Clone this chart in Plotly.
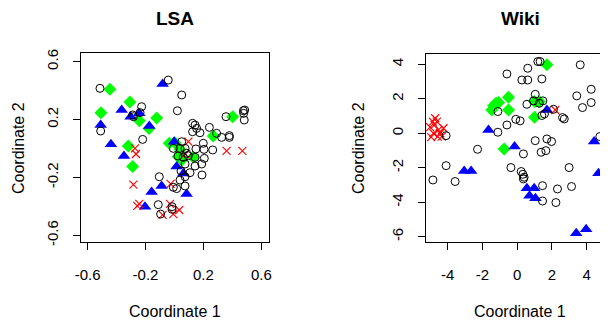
import plotly.graph_objects as go

# ---------------- LSA panel data ----------------
lsa_circle_x = [-0.515, -0.043, 0.050, -0.227, -0.238, -0.284, -0.289, 0.020, -0.510, -0.220,
                0.125, 0.142, 0.153, 0.176, 0.125, 0.241, 0.291, 0.326, 0.379, 0.379,
                0.356, 0.476, 0.485, 0.478, 0.482, 0.050, -0.008, 0.038, 0.073, 0.084,
                0.199, 0.148, 0.204, 0.264, 0.024, 0.061, 0.096, 0.142, 0.206, 0.073,
                0.142, 0.188, 0.045, 0.107, 0.190, 0.073, 0.038, -0.105, -0.008, 0.015,
                0.073, -0.112, -0.017, -0.096, -0.017]
lsa_circle_y = [0.416, 0.473, 0.370, 0.289, 0.248, 0.220, 0.232, 0.261, 0.121, 0.063,
                0.174, 0.162, 0.139, 0.109, 0.116, 0.146, 0.105, 0.077, 0.089, 0.077,
                0.220, 0.261, 0.266, 0.243, 0.197, 0.047, 0.001, 0.001, 0.001, -0.033,
                0.036, -0.003, -0.006, -0.010, -0.052, -0.061, -0.050, -0.061, -0.068, -0.107,
                -0.121, -0.107, -0.155, -0.167, -0.183, -0.195, -0.218, -0.195, -0.268, -0.277,
                -0.259, -0.388, -0.402, -0.453, -0.420]

lsa_diamond_x = [-0.446, -0.308, -0.508, -0.123, -0.243, -0.176, -0.319, -0.289, -0.036, 0.003,
                 0.038, 0.026, 0.130, 0.268, 0.402, 0.050]
lsa_diamond_y = [0.409, 0.321, 0.248, 0.211, 0.192, 0.139, 0.017, -0.125, 0.036, 0.040,
                 -0.006, -0.057, -0.061, 0.086, 0.220, -0.079]

lsa_triangle_x = [-0.082, -0.365, -0.303, -0.243, -0.510, -0.174, -0.439, -0.349, 0.015, 0.061,
                  0.084, -0.089, -0.158, -0.204, -0.003]
lsa_triangle_y = [0.446, 0.266, 0.220, 0.243, 0.162, 0.155, 0.029, -0.052, -0.125, -0.172,
                  -0.314, -0.259, -0.300, -0.402, 0.047]

lsa_cross_x = [0.096, -0.273, -0.266, -0.284, -0.243, -0.257, -0.027, -0.031, 0.033, -0.008,
               -0.082, 0.360, 0.469, 0.073]
lsa_cross_y = [0.047, 0.001, -0.038, -0.250, -0.383, -0.397, -0.245, -0.383, -0.425, -0.453,
               -0.459, -0.017, -0.017, -0.038]

# ---------------- Wiki panel data ----------------
wiki_circle_x = [-4.85, -4.09, -4.09, -3.57, -2.28, -1.11, -1.11, -0.59, -0.59, -0.36,
                 -0.08, 0.17, 0.27, 0.61, 0.61, 0.56, 0.36, 0.23, 0.33, 0.40,
                 0.36, 1.19, 1.32, 1.42, 1.04, 0.94, 1.48, 1.27, 1.42, 1.57,
                 1.04, 1.71, 1.98, 1.38, 1.65, 1.46, 1.46, 2.23, 2.32, 2.61,
                 2.71, 2.09, 2.99, 3.13, 3.63, 3.43, 3.76, 4.26, 4.26, 4.76]
wiki_circle_y = [-2.71, -0.14, -1.88, -2.80, -0.93, 0.06, 1.26, 3.44, 0.48, -1.99,
                 0.81, 0.72, 3.09, 3.77, 3.09, 1.68, -1.20, -2.22, -2.38, -2.55,
                 -2.65, 4.16, 4.16, 3.15, 2.26, 1.88, 1.88, 1.74, 1.03, 1.12,
                 -0.43, -0.33, -0.48, -1.10, -1.01, -3.04, -3.93, -4.02, -3.23, 0.91,
                 0.83, 1.39, -1.99, -3.09, 3.97, 2.17, 1.49, 2.55, 1.78, -0.19]

wiki_diamond_x = [1.71, -0.50, -1.21, -1.07, -1.36, -1.46, -0.50, 1.00, 1.27, 1.00, -0.75, 5.26]
wiki_diamond_y = [3.97, 2.09, 1.74, 1.78, 1.59, 1.35, 1.35, 1.84, 1.84, 0.93, -0.91, -0.35]

wiki_triangle_x = [-1.65, -3.05, -2.65, -0.15, 1.71, 4.43, 4.68, 0.56, 0.98, 0.71,
                   1.05, 3.40, 3.97, 5.20]
wiki_triangle_y = [0.19, -2.19, -2.19, -0.77, 1.35, -0.48, -2.32, -3.19, -3.19, -3.62,
                   -3.77, -5.80, -5.57, -2.13]

wiki_cross_x = [-4.85, -4.62, -4.76, -5.01, -4.53, -4.82, -4.43, -4.24, -4.95, -4.57,
                -4.34, -4.72, 2.19]
wiki_cross_y = [0.68, 0.68, 0.48, 0.35, 0.19, 0.00, 0.00, 0.29, -0.23, -0.19,
                -0.19, 0.87, 1.35]

lsa_ticks = [-0.6, -0.2, 0.2, 0.6]
lsa_ticktext = ["-0.6", "-0.2", "0.2", "0.6"]
wiki_xticks = [-4, -2, 0, 2, 4]
wiki_xticktext = ["-4", "-2", "0", "2", "4"]
wiki_yticks = [-6, -4, -2, 0, 2, 4]
wiki_yticktext = ["-6", "-4", "-2", "0", "2", "4"]

titles = ["LSA", "Wiki"]

FONT = "Liberation Sans, Arial, Helvetica, sans-serif"
GREEN = "#00FF00"
BLUE = "#0000FF"
RED = "#FF0000"

fig = go.Figure()


def add_panel(xa, ya, dx, dy, tx, ty, cx, cy, ox, oy):
    fig.add_trace(go.Scatter(x=dx, y=dy, mode="markers", xaxis=xa, yaxis=ya,
                             marker=dict(symbol="diamond", size=10, color=GREEN, line=dict(width=0))))
    fig.add_trace(go.Scatter(x=tx, y=ty, mode="markers", xaxis=xa, yaxis=ya,
                             marker=dict(symbol="triangle-up", size=11, color=BLUE, line=dict(width=0))))
    fig.add_trace(go.Scatter(x=cx, y=cy, mode="markers", xaxis=xa, yaxis=ya,
                             marker=dict(symbol="x-thin-open", size=8, color=RED,
                                         line=dict(width=1.1, color=RED))))
    fig.add_trace(go.Scatter(x=ox, y=oy, mode="markers", xaxis=xa, yaxis=ya,
                             marker=dict(symbol="circle-open", size=8, color="black",
                                         line=dict(width=1, color="black"))))


add_panel("x", "y", lsa_diamond_x, lsa_diamond_y, lsa_triangle_x, lsa_triangle_y,
          lsa_cross_x, lsa_cross_y, lsa_circle_x, lsa_circle_y)
add_panel("x2", "y2", wiki_diamond_x, wiki_diamond_y, wiki_triangle_x, wiki_triangle_y,
          wiki_cross_x, wiki_cross_y, wiki_circle_x, wiki_circle_y)

# the page body has an 8px margin, so the figure is drawn 8px in from the window corner
OFF = 8
W, H = 608 - OFF, 322 - OFF


def px_x(p):
    return (p - OFF) / W


def px_y(p):
    return 1 - (p - OFF) / H


axis_common = dict(showgrid=False, zeroline=False, showline=True, linecolor="black", linewidth=1,
                   ticks="outside", ticklen=7, tickwidth=1, tickcolor="black", automargin=False,
                   tickfont=dict(family=FONT, size=15, color="black"))

fig.update_layout(
    width=W, height=H, margin=dict(l=0, r=0, t=0, b=0, autoexpand=False),
    paper_bgcolor="white", plot_bgcolor="white", showlegend=False,
    font=dict(family=FONT, color="black"),
    xaxis=dict(domain=[px_x(81), px_x(268.7)], range=[-0.646, 0.651], mirror=True,
               tickvals=lsa_ticks, ticktext=lsa_ticktext, ticklabelstandoff=12, **axis_common),
    yaxis=dict(domain=[px_y(241.7), px_y(53.3)], range=[-0.644, 0.658], mirror=True,
               tickvals=lsa_ticks, ticktext=lsa_ticktext, tickangle=-90, ticklabelstandoff=9,
               **axis_common),
    xaxis2=dict(domain=[px_x(426), 1.0], range=[-5.247, 5.228], mirror=True, anchor="y2",
                tickvals=wiki_xticks, ticktext=wiki_xticktext, ticklabelstandoff=12, **axis_common),
    yaxis2=dict(domain=[px_y(241.7), px_y(54.3)], range=[-6.29, 4.58], mirror=False, anchor="x2",
                tickvals=wiki_yticks, ticktext=wiki_yticktext, tickangle=-90, ticklabelstandoff=9,
                **axis_common),
)

ann = []
for t, cxp in zip(titles, [175, 520]):
    ann.append(dict(text="<b>%s</b>" % t, x=px_x(cxp), y=px_y(19), xref="paper", yref="paper",
                    xanchor="center", yanchor="middle", showarrow=False,
                    font=dict(family=FONT, size=19, color="black")))
for cxp in [175, 520]:
    ann.append(dict(text="Coordinate 1", x=px_x(cxp), y=px_y(311.5), xref="paper", yref="paper",
                    xanchor="center", yanchor="middle", showarrow=False,
                    font=dict(family=FONT, size=16, color="black")))
for cxp in [18, 358]:
    ann.append(dict(text="Coordinate 2", x=px_x(cxp), y=px_y(148), xref="paper", yref="paper",
                    xanchor="center", yanchor="middle", showarrow=False, textangle=-90,
                    font=dict(family=FONT, size=16, color="black")))
fig.update_layout(annotations=ann)

fig.write_html("out.html")
